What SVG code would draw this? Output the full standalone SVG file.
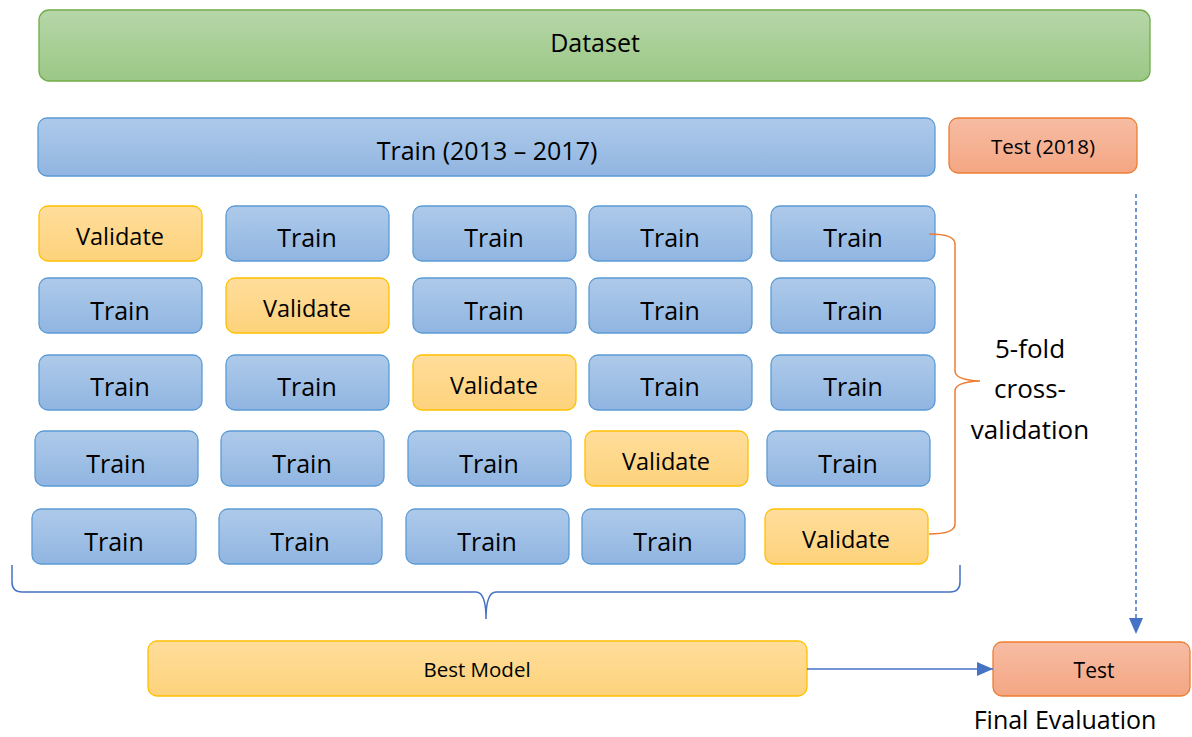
<svg xmlns="http://www.w3.org/2000/svg" width="1192" height="737" viewBox="0 0 1192 737">
<defs>
<linearGradient id="gGreen" x1="0" y1="0" x2="0" y2="1"><stop offset="0" stop-color="#b6d6a8"/><stop offset="1" stop-color="#9bc886"/></linearGradient>
<linearGradient id="gBlue" x1="0" y1="0" x2="0" y2="1"><stop offset="0" stop-color="#aecaea"/><stop offset="1" stop-color="#90b5e1"/></linearGradient>
<linearGradient id="gYellow" x1="0" y1="0" x2="0" y2="1"><stop offset="0" stop-color="#ffdd9b"/><stop offset="1" stop-color="#fdd27b"/></linearGradient>
<linearGradient id="gOrange" x1="0" y1="0" x2="0" y2="1"><stop offset="0" stop-color="#f7bca3"/><stop offset="1" stop-color="#f4a683"/></linearGradient>
<marker id="arrBig" markerWidth="16" markerHeight="14" refX="16" refY="7" orient="auto" markerUnits="userSpaceOnUse"><path d="M0,0 L16,7 L0,14 Z" fill="#4472c4"/></marker>
</defs>
<style>
text{font-family:"Open Sans","Liberation Sans",sans-serif;fill:#000;text-anchor:middle}
.green{fill:url(#gGreen);stroke:#70ad47;stroke-width:1.3}
.blue{fill:url(#gBlue);stroke:#5b9bd5;stroke-width:1.3}
.yellow{fill:url(#gYellow);stroke:#ffc000;stroke-width:1.3}
.orange{fill:url(#gOrange);stroke:#ed7d31;stroke-width:1.3}
.t{font-size:25px}
.v{font-size:23.5px}
.lbl{font-size:26px}
</style>

<g id="dataset"><rect class="green" x="39" y="10" width="1111" height="71" rx="10"/><text x="595" y="52" style="font-size:25px">Dataset</text></g>
<g id="train-all"><rect class="blue" x="38" y="118" width="897" height="58" rx="9"/><text x="487" y="160" style="font-size:25px">Train (2013 – 2017)</text></g>
<g id="test-2018"><rect class="orange" x="949" y="118" width="188" height="55" rx="9"/><text x="1043" y="154" style="font-size:20.5px">Test (2018)</text></g>

<!-- Row 1 -->
<g id="r1c1"><rect class="yellow" x="39" y="206" width="163" height="55" rx="9"/><text class="v" x="120" y="245">Validate</text></g>
<g id="r1c2"><rect class="blue" x="226" y="206" width="163" height="55" rx="9"/><text class="t" x="307" y="247">Train</text></g>
<g id="r1c3"><rect class="blue" x="413" y="206" width="163" height="55" rx="9"/><text class="t" x="494" y="247">Train</text></g>
<g id="r1c4"><rect class="blue" x="589" y="206" width="163" height="55" rx="9"/><text class="t" x="670" y="247">Train</text></g>
<g id="r1c5"><rect class="blue" x="771" y="206" width="164" height="55" rx="9"/><text class="t" x="853" y="247">Train</text></g>
<!-- Row 2 -->
<g id="r2c1"><rect class="blue" x="39" y="278" width="163" height="55" rx="9"/><text class="t" x="120" y="320">Train</text></g>
<g id="r2c2"><rect class="yellow" x="226" y="278" width="163" height="55" rx="9"/><text class="v" x="307" y="317">Validate</text></g>
<g id="r2c3"><rect class="blue" x="413" y="278" width="163" height="55" rx="9"/><text class="t" x="494" y="320">Train</text></g>
<g id="r2c4"><rect class="blue" x="589" y="278" width="163" height="55" rx="9"/><text class="t" x="670" y="320">Train</text></g>
<g id="r2c5"><rect class="blue" x="771" y="278" width="164" height="55" rx="9"/><text class="t" x="853" y="320">Train</text></g>
<!-- Row 3 -->
<g id="r3c1"><rect class="blue" x="39" y="355" width="163" height="55" rx="9"/><text class="t" x="120" y="396">Train</text></g>
<g id="r3c2"><rect class="blue" x="226" y="355" width="163" height="55" rx="9"/><text class="t" x="307" y="396">Train</text></g>
<g id="r3c3"><rect class="yellow" x="413" y="355" width="163" height="55" rx="9"/><text class="v" x="494" y="394">Validate</text></g>
<g id="r3c4"><rect class="blue" x="589" y="355" width="163" height="55" rx="9"/><text class="t" x="670" y="396">Train</text></g>
<g id="r3c5"><rect class="blue" x="771" y="355" width="164" height="55" rx="9"/><text class="t" x="853" y="396">Train</text></g>
<!-- Row 4 -->
<g id="r4c1"><rect class="blue" x="35" y="431" width="163" height="55" rx="9"/><text class="t" x="116" y="473">Train</text></g>
<g id="r4c2"><rect class="blue" x="221" y="431" width="163" height="55" rx="9"/><text class="t" x="302" y="473">Train</text></g>
<g id="r4c3"><rect class="blue" x="408" y="431" width="163" height="55" rx="9"/><text class="t" x="489" y="473">Train</text></g>
<g id="r4c4"><rect class="yellow" x="585" y="431" width="163" height="55" rx="9"/><text class="v" x="666" y="470">Validate</text></g>
<g id="r4c5"><rect class="blue" x="767" y="431" width="163" height="55" rx="9"/><text class="t" x="848" y="473">Train</text></g>
<!-- Row 5 -->
<g id="r5c1"><rect class="blue" x="32" y="509" width="164" height="55" rx="9"/><text class="t" x="114" y="551">Train</text></g>
<g id="r5c2"><rect class="blue" x="219" y="509" width="163" height="55" rx="9"/><text class="t" x="300" y="551">Train</text></g>
<g id="r5c3"><rect class="blue" x="406" y="509" width="163" height="55" rx="9"/><text class="t" x="487" y="551">Train</text></g>
<g id="r5c4"><rect class="blue" x="582" y="509" width="163" height="55" rx="9"/><text class="t" x="663" y="551">Train</text></g>
<g id="r5c5"><rect class="yellow" x="765" y="509" width="163" height="55" rx="9"/><text class="v" x="846" y="548">Validate</text></g>

<g id="cv-label"><text class="lbl" x="1030" y="358">5-fold</text><text class="lbl" x="1030" y="398">cross-</text><text class="lbl" x="1030" y="439">validation</text></g>

<g id="best-model"><rect class="yellow" x="148" y="641" width="659" height="55" rx="9"/><text x="477" y="677" style="font-size:20.5px">Best Model</text></g>
<g id="test"><rect class="orange" x="993" y="642" width="197" height="54" rx="9"/><text x="1094" y="678" style="font-size:21px">Test</text></g>
<g id="final-label"><text x="1065" y="729" style="font-size:25px">Final Evaluation</text></g>

<g id="connectors" fill="none">
<path d="M929,234 Q955,234 955,244 L955,371 Q955,380 980,381 Q955,382 955,391 L955,524 Q955,534 929,534" stroke="#ed7d31" stroke-width="1.5"/>
<path d="M12,565 L12,582 Q12,592 22,592 L476,592 Q486,592 486,619 Q486,592 496,592 L950,592 Q960,592 960,582 L960,565" stroke="#4472c4" stroke-width="1.5"/>
<line x1="1136" y1="194" x2="1136" y2="634" stroke="#4472c4" stroke-width="1.5" stroke-dasharray="4,3" marker-end="url(#arrBig)"/>
<line x1="807" y1="669" x2="993" y2="669" stroke="#4472c4" stroke-width="1.5" marker-end="url(#arrBig)"/>
</g>
</svg>
